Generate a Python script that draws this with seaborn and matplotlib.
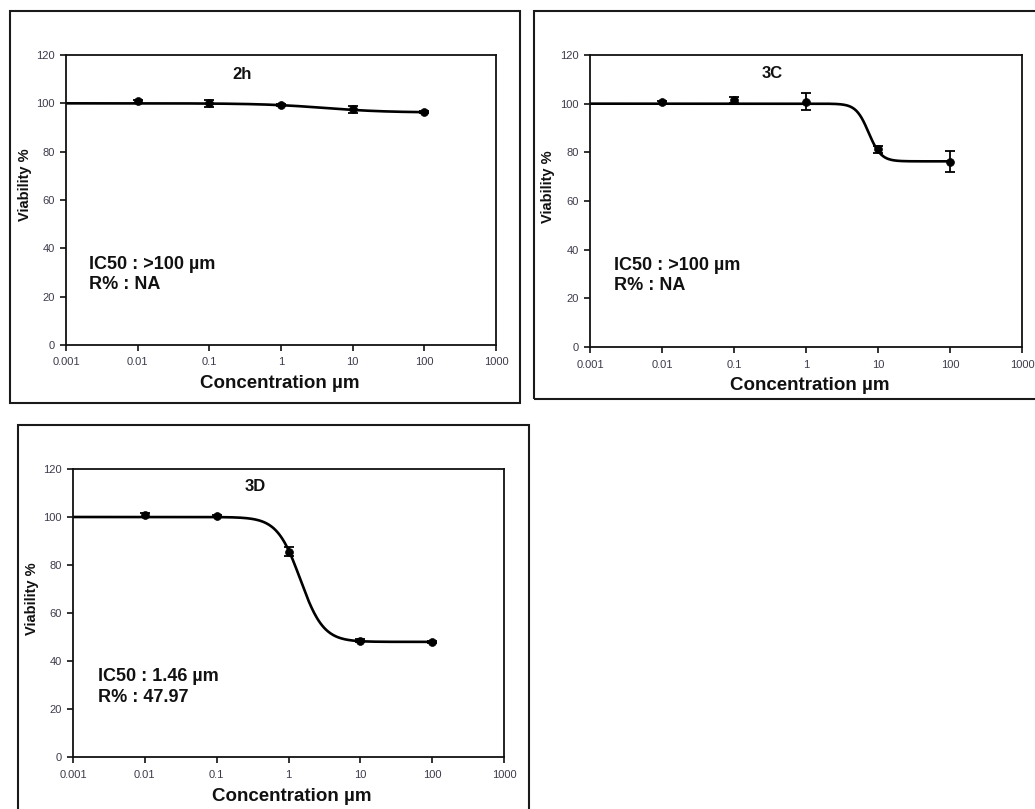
import numpy as np
import pandas as pd
import matplotlib
matplotlib.use("Agg")
import matplotlib.pyplot as plt
from matplotlib.patches import Rectangle
from matplotlib.ticker import FixedLocator, FixedFormatter, NullLocator
import seaborn as sns

# Concentrations tested (µm)
conc = [0.01, 0.1, 1, 10, 100]

# Mean viability (%) and error for each compound
via_2h = [100.9, 100.0, 99.2, 97.6, 96.4]
err_2h = [0.6, 1.5, 0.5, 1.5, 0.5]

via_3c = [100.5, 101.5, 100.8, 81.3, 76.2]
err_3c = [0.5, 1.3, 3.5, 1.5, 4.2]

via_3d = [101.0, 100.4, 85.6, 48.4, 47.8]
err_3d = [0.8, 0.5, 2.0, 0.6, 0.5]

# Four-parameter logistic fits: top, bottom, IC50, hill slope
fit_2h = [100.0, 96.2, 4.0, 1.0]
fit_3c = [100.0, 76.3, 7.4, 5.0]
fit_3d = [100.0, 47.97, 1.46, 2.7]

titles = ["2h", "3C", "3D"]
ic50_labels = ["IC50 : >100 µm", "IC50 : >100 µm", "IC50 : 1.46 µm"]
r_labels = ["R% : NA", "R% : NA", "R% : 47.97"]

x_ticks = [0.001, 0.01, 0.1, 1, 10, 100, 1000]
x_tick_labels = ["0.001", "0.01", "0.1", "1", "10", "100", "1000"]
y_ticks = [0, 20, 40, 60, 80, 100, 120]

sns.set_theme(style="ticks")
plt.rcParams["font.family"] = ["Liberation Sans", "DejaVu Sans"]
plt.rcParams["axes.edgecolor"] = "#111111"
plt.rcParams["axes.linewidth"] = 1.3

W, H = 1035, 809
fig = plt.figure(figsize=(W / 100, H / 100), dpi=100)
fig.patch.set_facecolor("white")


def fig_rect(l, t, r, b):
    return [l / W, 1 - b / H, (r - l) / W, (b - t) / H]


def logistic(x, p):
    top, bottom, ic50, hill = p
    return bottom + (top - bottom) / (1 + (x / ic50) ** hill)


panels = [
    # axes box, outer frame box, data, errors, fit
    ((66, 55, 496, 345), (9.5, 11, 520, 403), via_2h, err_2h, fit_2h),
    ((590, 55, 1022, 347), (534, 11, 1045, 399), via_3c, err_3c, fit_3c),
    ((73, 469, 504, 757), (18, 425, 529, 820), via_3d, err_3d, fit_3d),
]

label_pos = [
    dict(ylab=(-0.079, 0.552), xlab=(0.498, -0.103), title=(0.410, 0.934),
         ic=(0.053, 0.279), r=(0.053, 0.210)),
    dict(ylab=(-0.081, 0.548), xlab=(0.509, -0.103), title=(0.421, 0.935),
         ic=(0.056, 0.279), r=(0.056, 0.210)),
    dict(ylab=(-0.079, 0.549), xlab=(0.508, -0.108), title=(0.422, 0.9375),
         ic=(0.058, 0.278), r=(0.058, 0.205)),
]

tick_color = "#3c3c4c"

for i, (abox, fbox, via, err, fit) in enumerate(panels):
    # outer frame around each panel
    l, t, r, b = fbox
    fig.patches.append(Rectangle((l / W, 1 - b / H), (r - l) / W, (b - t) / H,
                                 transform=fig.transFigure, fill=False,
                                 lw=1.5, ec="#1a1a1a", zorder=0))

    ax = fig.add_axes(fig_rect(*abox))
    ax.set_facecolor("white")

    # fitted dose-response curve
    xs = np.logspace(-3, 2, 400)
    curve = pd.DataFrame({"x": xs, "y": logistic(xs, fit)})
    sns.lineplot(data=curve, x="x", y="y", ax=ax, color="black", lw=1.9,
                 zorder=2)

    # measured points with error bars
    df = pd.DataFrame({"x": conc, "y": via, "e": err})
    ax.errorbar(df["x"], df["y"], yerr=df["e"], fmt="none", ecolor="black",
                elinewidth=1.3, capsize=3.5, capthick=1.3, zorder=3)
    sns.scatterplot(data=df, x="x", y="y", ax=ax, color="black", s=32,
                    edgecolor="black", linewidth=0.5, zorder=4)

    ax.set_xscale("log")
    ax.set_xlim(0.001, 1000)
    ax.set_ylim(0, 120)
    ax.xaxis.set_major_locator(FixedLocator(x_ticks))
    ax.xaxis.set_major_formatter(FixedFormatter(x_tick_labels))
    ax.xaxis.set_minor_locator(NullLocator())
    ax.set_yticks(y_ticks)
    ax.set_yticklabels([str(v) for v in y_ticks])

    ax.tick_params(axis="both", direction="out", length=4, width=1.2,
                   color="#111111", labelsize=8, labelcolor=tick_color)
    ax.tick_params(axis="x", pad=5)
    ax.tick_params(axis="y", pad=4)
    for sp in ax.spines.values():
        sp.set_visible(True)
        sp.set_color("#111111")
        sp.set_linewidth(1.3)

    pos = label_pos[i]
    ax.set_xlabel("Concentration µm", fontsize=13.5, fontweight="bold",
                  color="#111111")
    ax.set_ylabel("Viability %", fontsize=10.5, fontweight="bold",
                  color="#111111")
    ax.xaxis.set_label_coords(*pos["xlab"])
    ax.yaxis.set_label_coords(*pos["ylab"])

    ax.text(*pos["title"], titles[i], transform=ax.transAxes, ha="center",
            va="center", fontsize=12, fontweight="bold", color="#111111")
    ax.text(*pos["ic"], ic50_labels[i], transform=ax.transAxes, ha="left",
            va="center", fontsize=13, fontweight="bold", color="#111111")
    ax.text(*pos["r"], r_labels[i], transform=ax.transAxes, ha="left",
            va="center", fontsize=13, fontweight="bold", color="#111111")

fig.savefig("out.png", dpi=100, facecolor="white")
